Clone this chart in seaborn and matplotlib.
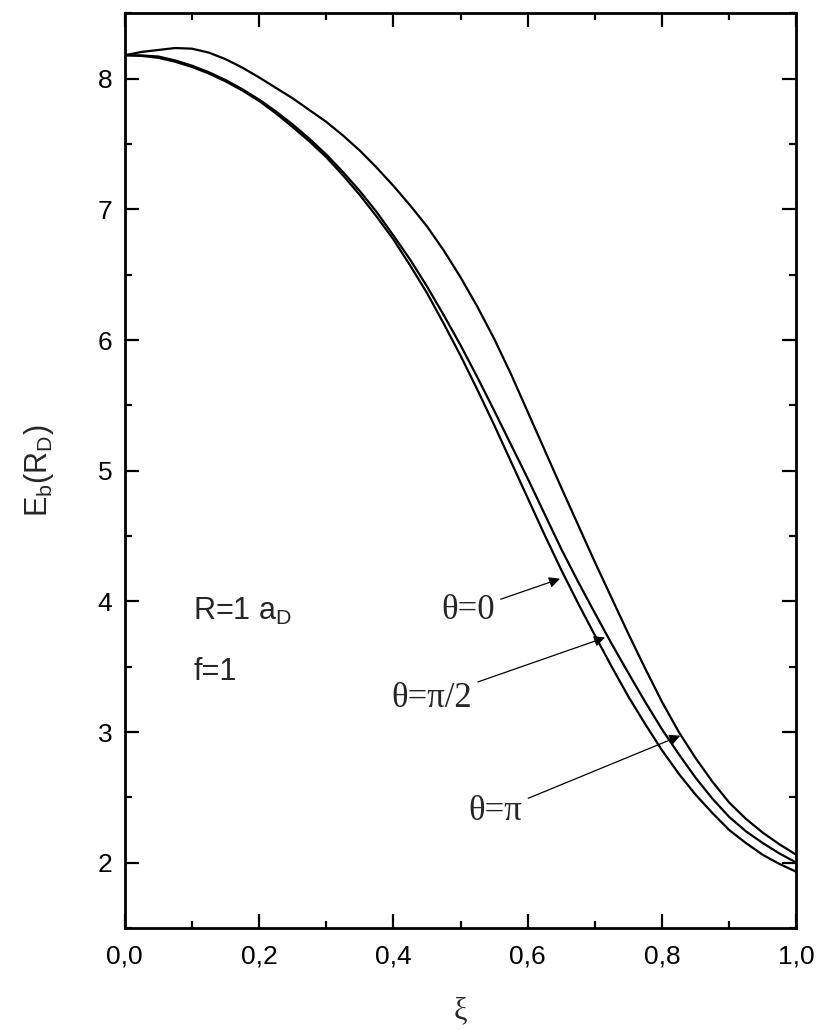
import numpy as np
import pandas as pd
import matplotlib
matplotlib.use("Agg")
import matplotlib.pyplot as plt
from matplotlib.ticker import MultipleLocator, FuncFormatter
import seaborn as sns

# ---- data ----
xi = [0.000, 0.025, 0.050, 0.075, 0.100, 0.125, 0.150, 0.175, 0.200, 0.225,
      0.250, 0.275, 0.300, 0.325, 0.350, 0.375, 0.400, 0.425, 0.450, 0.475,
      0.500, 0.525, 0.550, 0.575, 0.600, 0.625, 0.650, 0.675, 0.700, 0.725,
      0.750, 0.775, 0.800, 0.825, 0.850, 0.875, 0.900, 0.925, 0.950, 0.975,
      1.000]
eb_theta0 = [8.180, 8.205, 8.220, 8.235, 8.230, 8.200, 8.150, 8.085, 8.010, 7.930,
             7.850, 7.760, 7.670, 7.565, 7.450, 7.320, 7.180, 7.030, 6.870, 6.685,
             6.480, 6.255, 6.010, 5.740, 5.450, 5.160, 4.870, 4.585, 4.300, 4.025,
             3.750, 3.485, 3.230, 3.000, 2.800, 2.620, 2.460, 2.335, 2.230, 2.140,
             2.060]
eb_theta_half_pi = [8.180, 8.178, 8.170, 8.140, 8.100, 8.050, 7.990, 7.920, 7.840, 7.750,
                    7.650, 7.540, 7.420, 7.285, 7.140, 6.980, 6.800, 6.615, 6.410, 6.190,
                    5.960, 5.715, 5.460, 5.200, 4.940, 4.670, 4.400, 4.150, 3.910, 3.675,
                    3.450, 3.230, 3.020, 2.830, 2.650, 2.490, 2.350, 2.240, 2.150, 2.070,
                    2.000]
eb_theta_pi = [8.180, 8.175, 8.160, 8.130, 8.090, 8.040, 7.980, 7.910, 7.830, 7.735,
               7.630, 7.520, 7.400, 7.260, 7.110, 6.945, 6.770, 6.570, 6.360, 6.125,
               5.880, 5.620, 5.350, 5.070, 4.790, 4.510, 4.240, 3.985, 3.740, 3.500,
               3.270, 3.060, 2.860, 2.680, 2.520, 2.380, 2.250, 2.150, 2.060, 1.990,
               1.930]
series_names = ["θ=0", "θ=π/2", "θ=π"]

x_ticks = [0.0, 0.2, 0.4, 0.6, 0.8, 1.0]
y_ticks = [2, 3, 4, 5, 6, 7, 8]

df = pd.concat([
    pd.DataFrame({"xi": xi, "Eb": eb_theta0, "theta": series_names[0]}),
    pd.DataFrame({"xi": xi, "Eb": eb_theta_half_pi, "theta": series_names[1]}),
    pd.DataFrame({"xi": xi, "Eb": eb_theta_pi, "theta": series_names[2]}),
])

sns.set_theme(style="ticks")
plt.rcParams["font.family"] = ["Liberation Sans", "DejaVu Sans"]
plt.rcParams["mathtext.fontset"] = "custom"
plt.rcParams["mathtext.rm"] = "Liberation Sans"
plt.rcParams["mathtext.it"] = "Liberation Sans"

fig = plt.figure(figsize=(8.21, 10.30), dpi=100)
ax = fig.add_axes([0.152, 0.099, 0.818, 0.888])

sns.lineplot(data=df, x="xi", y="Eb", hue="theta",
             palette=["black", "black", "black"], linewidth=1.6,
             legend=False, ax=ax, sort=False)

ax.set_xlim(0, 1.0)
ax.set_ylim(1.5, 8.5)
ax.set_xticks(x_ticks)
ax.set_yticks(y_ticks)
ax.xaxis.set_minor_locator(MultipleLocator(0.1))
ax.yaxis.set_minor_locator(MultipleLocator(0.5))
ax.xaxis.set_major_formatter(FuncFormatter(lambda v, p: f"{v:.1f}".replace(".", ",")))
ax.yaxis.set_major_formatter(FuncFormatter(lambda v, p: f"{v:.0f}"))

ax.tick_params(which="both", direction="in", top=True, right=True,
               colors="black", labelsize=19, width=1.6)
ax.tick_params(which="major", length=10)
ax.tick_params(which="minor", length=5)
ax.tick_params(axis="x", which="major", pad=12)
ax.tick_params(axis="y", which="major", pad=9)
for s in ax.spines.values():
    s.set_linewidth(2.0)
    s.set_color("black")

ax.set_xlabel("ξ", fontsize=22, family=["Liberation Serif", "DejaVu Serif"], labelpad=20)
ax.set_ylabel(r"E$_\mathregular{b}$(R$_\mathregular{D}$)", fontsize=22, labelpad=30)

ax.text(0.102, 3.92, r"R=1 a$_\mathregular{D}$", fontsize=22, ha="left", va="center")
ax.text(0.102, 3.46, "f=1", fontsize=22, ha="left", va="center")

serif = ["Liberation Serif", "DejaVu Serif"]
arrow_kw = dict(arrowstyle="-|>", color="black", lw=0.9, mutation_scale=16)
ax.annotate(series_names[0], xy=(0.652, 4.18), xytext=(0.551, 3.93),
            fontsize=25, family=serif, ha="right", va="center",
            arrowprops=arrow_kw)
ax.annotate(series_names[1], xy=(0.719, 3.73), xytext=(0.517, 3.26),
            fontsize=25, family=serif, ha="right", va="center",
            arrowprops=arrow_kw)
ax.annotate(series_names[2], xy=(0.831, 2.98), xytext=(0.592, 2.39),
            fontsize=25, family=serif, ha="right", va="center",
            arrowprops=arrow_kw)

fig.savefig("out.png", dpi=100, facecolor="white")
